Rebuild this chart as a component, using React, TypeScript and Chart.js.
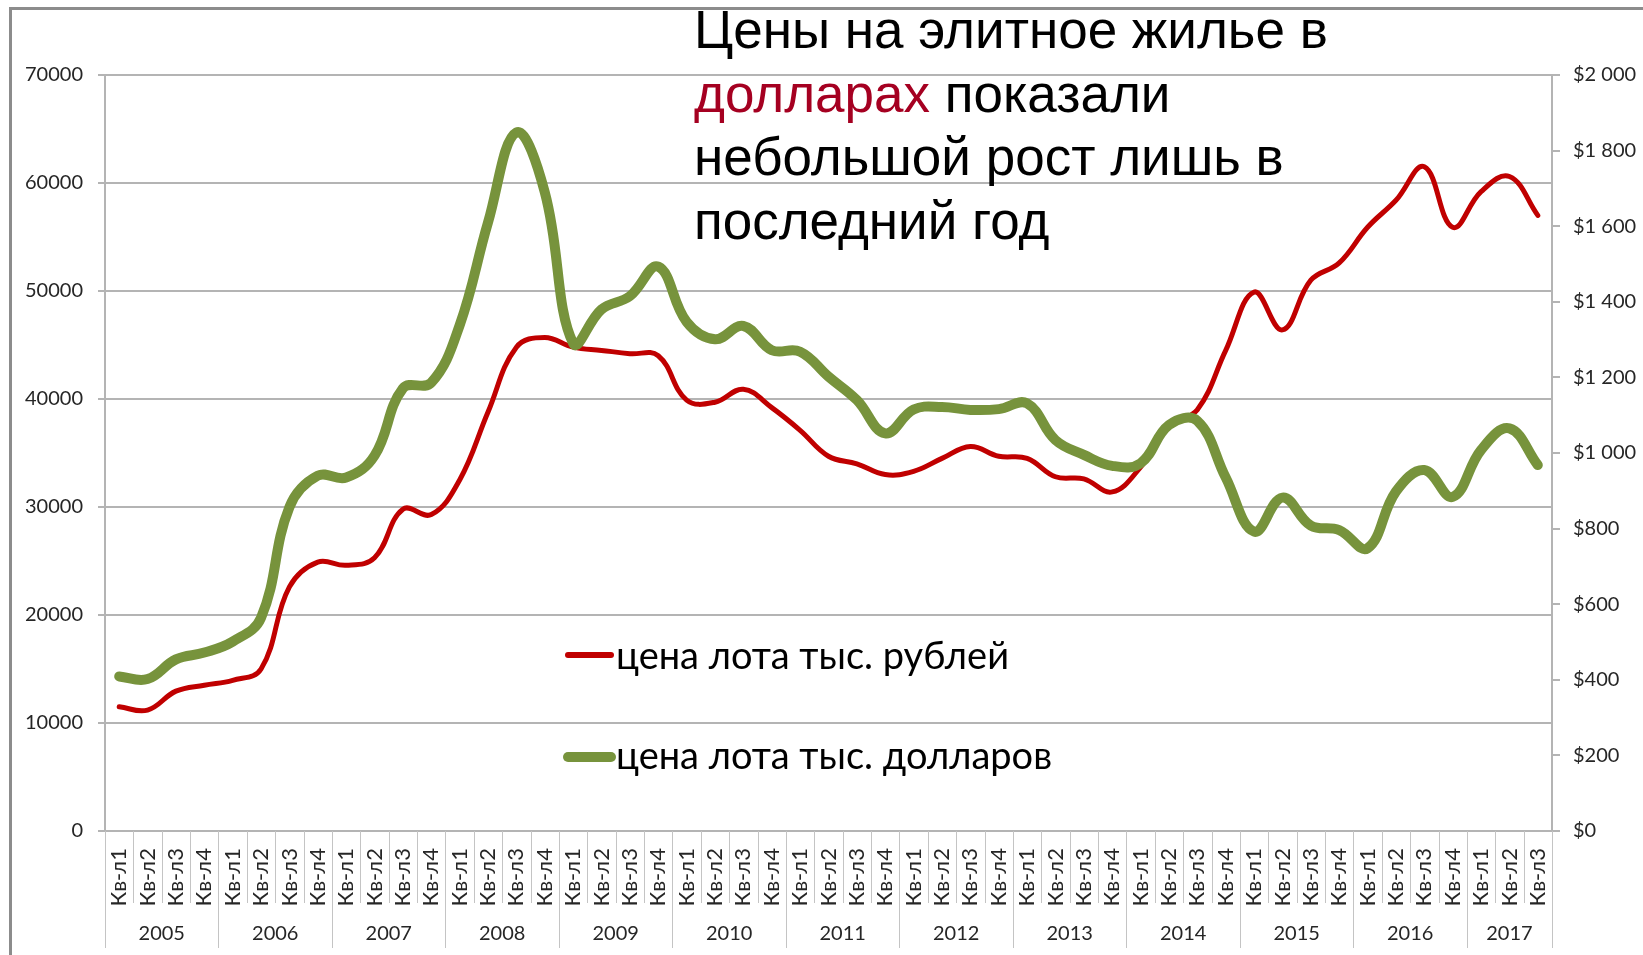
import React, { useEffect, useRef } from 'react';
import { Chart, registerables } from 'chart.js';

Chart.register(...registerables);

// ---------- data ----------
const years = ['2005', '2006', '2007', '2008', '2009', '2010', '2011', '2012', '2013', '2014', '2015', '2016', '2017'];

const quarterLabels = [
  'Кв-л1', 'Кв-л2', 'Кв-л3', 'Кв-л4', // 2005
  'Кв-л1', 'Кв-л2', 'Кв-л3', 'Кв-л4', // 2006
  'Кв-л1', 'Кв-л2', 'Кв-л3', 'Кв-л4', // 2007
  'Кв-л1', 'Кв-л2', 'Кв-л3', 'Кв-л4', // 2008
  'Кв-л1', 'Кв-л2', 'Кв-л3', 'Кв-л4', // 2009
  'Кв-л1', 'Кв-л2', 'Кв-л3', 'Кв-л4', // 2010
  'Кв-л1', 'Кв-л2', 'Кв-л3', 'Кв-л4', // 2011
  'Кв-л1', 'Кв-л2', 'Кв-л3', 'Кв-л4', // 2012
  'Кв-л1', 'Кв-л2', 'Кв-л3', 'Кв-л4', // 2013
  'Кв-л1', 'Кв-л2', 'Кв-л3', 'Кв-л4', // 2014
  'Кв-л1', 'Кв-л2', 'Кв-л3', 'Кв-л4', // 2015
  'Кв-л1', 'Кв-л2', 'Кв-л3', 'Кв-л4', // 2016
  'Кв-л1', 'Кв-л2', 'Кв-л3', // 2017
];

// цена лота, тыс. рублей (left axis)
const rubPrices = [
  11500, 11200, 12950, 13500,
  13950, 15000, 22600, 24900,
  24600, 25300, 29800, 29300,
  32500, 38800, 44800, 45700,
  44800, 44500, 44200, 44000,
  39900, 39700, 40900, 39200,
  37100, 34700, 34000, 33000,
  33300, 34500, 35600, 34700,
  34500, 32800, 32600, 31400,
  33700, 37500, 39000, 44500,
  49900, 46400, 51000, 52600,
  55900, 58400, 61500, 55900,
  59200, 60600, 57000,
];

// цена лота, тыс. долларов (right axis)
const usdPrices = [
  409, 402, 454, 472,
  501, 564, 857, 940,
  935, 993, 1171, 1186,
  1338, 1610, 1848, 1690,
  1290, 1380, 1415, 1493,
  1347, 1301, 1336, 1272,
  1268, 1202, 1140, 1052,
  1115, 1122, 1114, 1116,
  1131, 1034, 995, 966,
  973, 1074, 1085, 935,
  792, 882, 808, 796,
  748, 898, 955, 884,
  1008, 1065, 968,
];

const leftAxis = { min: 0, max: 70000, step: 10000 };
const rightAxis = { min: 0, max: 2000, step: 200 };

const seriesNames = ['цена лота тыс. рублей', 'цена лота тыс. долларов'];
const titleLines = [
  [{ t: 'Цены на элитное жилье в', red: false }],
  [{ t: 'долларах', red: true }, { t: ' показали', red: false }],
  [{ t: 'небольшой рост лишь в', red: false }],
  [{ t: 'последний год', red: false }],
];

// ---------- styles ----------
const RED = '#C00000';
const GREEN = '#77933C';
const GRID = '#b4b4b4';
const SEP = '#c4c4c4';
const TEXT = '#262626';
const TICK_FONT = 'Lato, "Open Sans", sans-serif';

const fmtDollar = (v: number) => {
  const s = String(Math.round(v));
  const withSpace = s.length > 3 ? s.slice(0, s.length - 3) + ' ' + s.slice(s.length - 3) : s;
  return '$' + withSpace;
};

const yearBandsPlugin = {
  id: 'yearBands',
  afterDraw(chart: any) {
    const x = chart.scales.x;
    const ctx = chart.ctx;
    const n = quarterLabels.length;
    const half = (x.getPixelForValue(1) - x.getPixelForValue(0)) / 2;
    const axisY = chart.chartArea.bottom;
    ctx.save();
    ctx.strokeStyle = SEP;
    ctx.lineWidth = 1;
    const yearStartIdx: number[] = [];
    quarterLabels.forEach((q, i) => { if (q === 'Кв-л1') yearStartIdx.push(i); });
    for (let i = 0; i <= n; i++) {
      const px = Math.round((i < n ? x.getPixelForValue(i) - half : x.getPixelForValue(n - 1) + half)) + 0.5;
      const isYear = i === n || yearStartIdx.includes(i);
      ctx.beginPath();
      ctx.moveTo(px, axisY);
      ctx.lineTo(px, axisY + (isYear ? 117 : 72));
      ctx.stroke();
    }
    ctx.fillStyle = TEXT;
    ctx.font = `20px ${TICK_FONT}`;
    ctx.textAlign = 'center';
    ctx.textBaseline = 'middle';
    yearStartIdx.forEach((s, k) => {
      const e = k + 1 < yearStartIdx.length ? yearStartIdx[k + 1] - 1 : n - 1;
      const cx = (x.getPixelForValue(s) + x.getPixelForValue(e)) / 2;
      ctx.fillText(years[k], cx, axisY + 103);
    });
    ctx.restore();
  },
};

const legendPlugin = {
  id: 'midLegend',
  afterDraw(chart: any) {
    const ctx = chart.ctx;
    const items = [
      { name: seriesNames[0], color: RED, w: 6, y: 655, base: 669 },
      { name: seriesNames[1], color: GREEN, w: 10, y: 757, base: 769 },
    ];
    ctx.save();
    items.forEach((it) => {
      ctx.strokeStyle = it.color;
      ctx.lineWidth = it.w;
      ctx.lineCap = 'round';
      ctx.beginPath();
      ctx.moveTo(568, it.y);
      ctx.lineTo(611, it.y);
      ctx.stroke();
      ctx.fillStyle = '#000';
      ctx.font = `38px ${TICK_FONT}`;
      ctx.textAlign = 'left';
      ctx.textBaseline = 'alphabetic';
      ctx.fillText(it.name, 616, it.base);
    });
    ctx.restore();
  },
};

function ChartCanvas() {
  const ref = useRef<HTMLCanvasElement | null>(null);
  useEffect(() => {
    let chart: Chart | null = null;
    let cancelled = false;
    const make = () => {
      if (cancelled || !ref.current) return;
      chart = new Chart(ref.current, {
        type: 'line',
        data: {
          labels: quarterLabels,
          datasets: [
            {
              label: seriesNames[0],
              data: rubPrices,
              yAxisID: 'y',
              borderColor: RED,
              borderWidth: 5,
              pointRadius: 0,
              tension: 0.4,
              borderCapStyle: 'round',
              borderJoinStyle: 'round',
              order: 2,
            },
            {
              label: seriesNames[1],
              data: usdPrices,
              yAxisID: 'y1',
              borderColor: GREEN,
              borderWidth: 10,
              pointRadius: 0,
              tension: 0.4,
              borderCapStyle: 'round',
              borderJoinStyle: 'round',
              order: 1,
            },
          ],
        },
        options: {
          responsive: false,
          animation: false,
          layout: { padding: { top: 75, left: 0, right: 0, bottom: 0 } },
          plugins: { legend: { display: false }, tooltip: { enabled: false }, title: { display: false } },
          scales: {
            x: {
              type: 'category',
              offset: true,
              grid: { display: false, drawTicks: false },
              border: { display: true, color: GRID, width: 2 },
              ticks: {
                autoSkip: false,
                minRotation: 90,
                maxRotation: 90,
                padding: 17,
                color: TEXT,
                font: { family: TICK_FONT, size: 22 },
              },
              afterFit: (s: any) => { s.height = 124; },
            },
            y: {
              position: 'left',
              min: leftAxis.min,
              max: leftAxis.max,
              grid: { color: GRID, lineWidth: 2, tickLength: 7 },
              border: { display: true, color: GRID, width: 2 },
              ticks: {
                stepSize: leftAxis.step,
                padding: 15,
                color: TEXT,
                font: { family: TICK_FONT, size: 20 },
                callback: (v: any) => String(v),
              },
              afterFit: (s: any) => { s.width = 105; },
            },
            y1: {
              position: 'right',
              min: rightAxis.min,
              max: rightAxis.max,
              grid: { drawOnChartArea: false, color: GRID, lineWidth: 2, tickLength: 8 },
              border: { display: true, color: GRID, width: 2 },
              ticks: {
                stepSize: rightAxis.step,
                padding: 13,
                color: TEXT,
                font: { family: TICK_FONT, size: 20 },
                callback: (v: any) => fmtDollar(Number(v)),
              },
              afterFit: (s: any) => { s.width = 91; },
            },
          },
        },
        plugins: [yearBandsPlugin, legendPlugin],
      } as any);
    };
    const fonts: any = (document as any).fonts;
    if (fonts && fonts.load) {
      Promise.all([fonts.load('20px Lato'), fonts.load('53px "Liberation Sans"')]).then(make, make);
    } else {
      make();
    }
    return () => {
      cancelled = true;
      if (chart) chart.destroy();
    };
  }, []);
  return (
    <canvas
      ref={ref}
      width={1643}
      height={955}
      style={{ position: 'absolute', left: 0, top: 0, width: 1643, height: 955 }}
    />
  );
}

export default function App() {
  return (
    <div style={{ position: 'absolute', left: 0, top: 0, width: 1643, height: 955, overflow: 'hidden', background: '#fff' }}>
      <div
        style={{
          position: 'absolute',
          left: 9,
          top: 7,
          width: 1700,
          height: 1000,
          borderLeft: '3px solid #8c8c8c',
          borderTop: '3px solid #8c8c8c',
        }}
      />
      <ChartCanvas />
      <div
        style={{
          position: 'absolute',
          left: 694,
          top: -2,
          fontFamily: '"Liberation Sans", Arial, sans-serif',
          fontSize: 53,
          lineHeight: '63.5px',
          color: '#000',
          whiteSpace: 'nowrap',
        }}
      >
        {titleLines.map((line, i) => (
          <div key={i}>
            {line.map((p, j) => (
              <span key={j} style={{ color: p.red ? '#A50021' : '#000' }}>{p.t}</span>
            ))}
          </div>
        ))}
      </div>
    </div>
  );
}
